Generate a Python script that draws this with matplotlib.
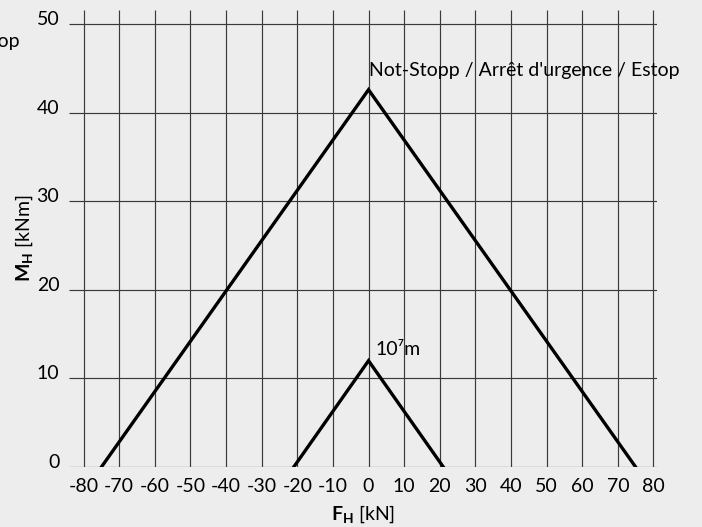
import matplotlib
matplotlib.use("Agg")
from matplotlib import pyplot as plt
from matplotlib import transforms

# data
estop_x = [-75, 0, 75]
estop_y = [0, 42.6, 0]
small_x = [-21, 0, 21]
small_y = [0, 12, 0]
x_ticks = list(range(-80, 81, 10))
y_ticks = [0, 10, 20, 30, 40, 50]
estop_label = "Not-Stopp / Arrêt d'urgence / Estop"
small_label = "10⁷m"

plt.rcParams['font.family'] = ['Lato', 'DejaVu Sans']
plt.rcParams['mathtext.fontset'] = 'custom'
plt.rcParams['mathtext.rm'] = 'Lato'
plt.rcParams['mathtext.bf'] = 'Lato:weight=bold'

bg = '#ededed'
W, H = 702, 527
fs = 14
fig = plt.figure(figsize=(W / 100, H / 100), dpi=100, facecolor=bg)
# axes box in pixels: left 69, right 657, top 10, bottom 467
ax = fig.add_axes([69 / W, (H - 467) / H, (657 - 69) / W, (467 - 10) / H])
ax.set_facecolor(bg)

xmin, xmax = -84.1, 81.0
ymin, ymax = 0, 51.6
ax.set_xlim(xmin, xmax)
ax.set_ylim(ymin, ymax)

grid_kw = dict(color='#3a3a3a', lw=0.85, zorder=1)
ax.vlines(x_ticks, ymin, ymax, **grid_kw)
ax.hlines(y_ticks, xmin, xmax, **grid_kw)

ax.plot(estop_x, estop_y, color='black', lw=2.4, solid_joinstyle='miter', zorder=3)
ax.plot(small_x, small_y, color='black', lw=2.4, solid_joinstyle='miter', zorder=3)

ax.text(0, 44.1, estop_label, fontsize=fs, ha='left', va='baseline', zorder=4)
ax.text(2.0, 12.6, small_label, fontsize=fs, ha='left', va='baseline', zorder=4)

for s in ax.spines.values():
    s.set_visible(False)

ax.set_xticks(x_ticks)
ax.set_xticklabels([str(v) for v in x_ticks])
ax.set_yticks(y_ticks)
ax.set_yticklabels([str(v) for v in y_ticks])
ax.tick_params(axis='both', length=0, labelsize=fs, colors='black')
ax.tick_params(axis='x', pad=8)
ax.tick_params(axis='y', pad=7)
shift = transforms.ScaledTranslation(0, 6 / 100, fig.dpi_scale_trans)
for lab in ax.get_yticklabels():
    lab.set_transform(lab.get_transform() + shift)

ax.set_xlabel(r"$\mathbf{F_H}$ [kN]", fontsize=fs, labelpad=6)
ax.set_ylabel(r"$\mathbf{M_H}$ [kNm]", fontsize=fs, labelpad=0)
ax.yaxis.set_label_coords(-34 / (657 - 69), 0.5)

# cut-off text at the top left corner of the source image
fig.text(20 / W, (H - 42) / H, "Estop", fontsize=fs, ha='right', va='center')

plt.savefig('out.png', dpi=100, facecolor=bg)
